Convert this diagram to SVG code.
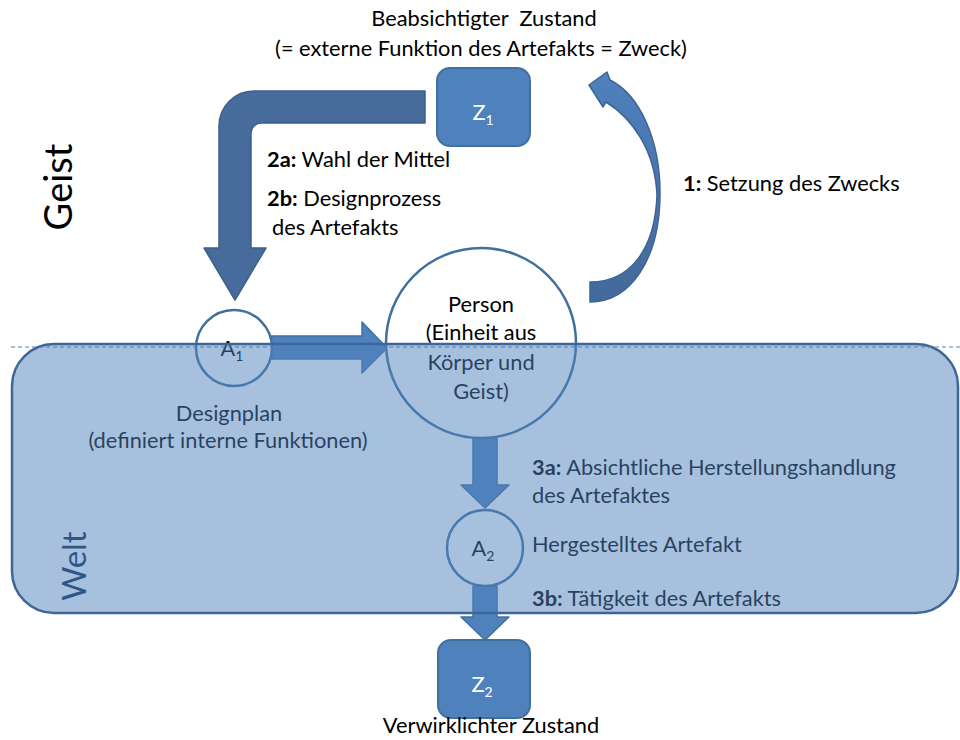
<svg xmlns="http://www.w3.org/2000/svg" width="960" height="740" viewBox="0 0 960 740">
<style>
text{font-family:Lato,"Liberation Sans",sans-serif;font-size:21.8px;fill:#000}
.c{text-anchor:middle}
.w{fill:#fff}
.b{font-weight:bold}
.box{fill:#4f81bd;stroke:#41709f;stroke-width:2}
.circ{fill:#fff;stroke:#41709f;stroke-width:2.5}
.arr{fill:#4f81bd;stroke:#41709f;stroke-width:1.5;stroke-linejoin:round}
</style>
<defs>
<linearGradient id="cg" x1="0" y1="0" x2="0" y2="1">
<stop offset="0" stop-color="#4f81bd"/>
<stop offset="1" stop-color="#44699a"/>
</linearGradient>
</defs>
<rect width="960" height="740" fill="#fff"/>
<text id="geist" transform="translate(72,187) rotate(-90)" class="c" style="font-size:38px">Geist</text>
<text id="welt" transform="translate(86,566) rotate(-90)" class="c" style="font-size:33px;fill:#0d2a52">Welt</text>
<g id="connectors">
<path class="arr" style="fill:#476c9c;stroke:#3d5f8c" d="M425,91 L254,91 A35,35 0 0 0 219,126 L219,248 L204,248 L235,300 L266,248 L251,248 L251,133 A10,10 0 0 1 261,123 L425,123 Z"/>
<path class="arr" style="fill:url(#cg);stroke:#3d6494" d="M590,282 C630,282 655,250 657,195 C655,150 632,118 606,102 L603,107 L589,85 L607,72 L610,80 C640,95 660,140 660,193 C660,260 630,302 590,302 Z"/>
<path class="arr" d="M271,336 L362,336 L362,322 L387,348 L362,373 L362,359 L271,359 Z"/>
<path class="arr" d="M473,437 L497,437 L497,485 L509,485 L485,508 L461,485 L473,485 Z"/>
<path class="arr" d="M473,586 L497,586 L497,617 L509,617 L485,640 L461,617 L473,617 Z"/>
</g>
<g id="z1">
<rect class="box" x="437" y="68" width="93" height="78" rx="13"/>
<text class="c w" x="483" y="120">Z<tspan dy="5" style="font-size:14px">1</tspan></text>
</g>
<g id="z1-label">
<text class="c" x="484" y="26" xml:space="preserve">Beabsichtigter  Zustand</text>
<text class="c" x="481" y="56">(= externe Funktion des Artefakts = Zweck)</text>
</g>
<g id="step2">
<text x="267" y="167"><tspan class="b">2a:</tspan> Wahl der Mittel</text>
<text x="267" y="206"><tspan class="b">2b:</tspan> Designprozess</text>
<text x="272" y="235">des Artefakts</text>
</g>
<g id="step1">
<text x="683" y="191"><tspan class="b">1:</tspan> Setzung des Zwecks</text>
</g>
<g id="a1">
<circle class="circ" cx="234" cy="348" r="38"/>
<text class="c" x="232" y="356">A<tspan dy="5" style="font-size:14px">1</tspan></text>
<text class="c" x="229" y="421">Designplan</text>
<text class="c" x="228" y="448">(definiert interne Funktionen)</text>
</g>
<g id="person">
<circle class="circ" cx="481" cy="343" r="95"/>
<text class="c" x="481" y="312">Person</text>
<text class="c" x="481" y="340">(Einheit aus</text>
<text class="c" x="481" y="370">Körper und</text>
<text class="c" x="481" y="399">Geist)</text>
</g>
<g id="a2">
<circle class="circ" cx="485" cy="548" r="38"/>
<text class="c" x="483" y="556">A<tspan dy="5" style="font-size:14px">2</tspan></text>
<text x="532" y="552">Hergestelltes Artefakt</text>
</g>
<g id="step3">
<text x="532" y="475"><tspan class="b">3a:</tspan> Absichtliche Herstellungshandlung</text>
<text x="532" y="503">des Artefaktes</text>
<text x="532" y="606"><tspan class="b">3b:</tspan> Tätigkeit des Artefakts</text>
</g>
<g id="welt-region">
<rect x="12" y="344" width="946" height="269" rx="42" fill="#4f81bd" fill-opacity="0.5" stroke="#3e6797" stroke-width="2.5"/>
<line x1="11" y1="347" x2="960" y2="347" stroke="#4f81bd" stroke-width="1" stroke-dasharray="4,3"/>
</g>
<g id="z2">
<rect class="box" x="438" y="640" width="92" height="78" rx="13"/>
<text class="c w" x="482" y="692">Z<tspan dy="5" style="font-size:14px">2</tspan></text>
<text class="c" x="491" y="733">Verwirklichter Zustand</text>
</g>
</svg>
